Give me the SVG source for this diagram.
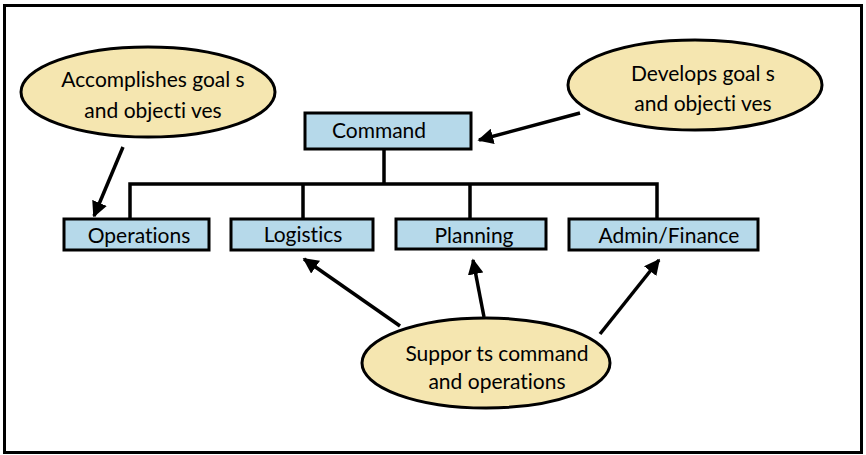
<svg xmlns="http://www.w3.org/2000/svg" width="866" height="455" viewBox="0 0 866 455">
<style>
.frame{fill:#fff;stroke:#000;stroke-width:3}
.box{fill:#b6d9ea;stroke:#000;stroke-width:3}
.ell{fill:#f5e6b0;stroke:#000;stroke-width:3}
.t{font-family:Lato,"Open Sans",sans-serif;font-size:21px;fill:#000;text-anchor:middle;font-variant-ligatures:none}
.ln{stroke:#000;stroke-width:3.5;fill:none}
.ar{stroke:#000;stroke-width:3.5;fill:none;marker-end:url(#ah)}
</style>
<defs>
<marker id="ah" viewBox="0 0 10 10" refX="9" refY="5" markerWidth="4.5" markerHeight="4.5" orient="auto" markerUnits="strokeWidth">
<path d="M0,0 L10,5 L0,10 z" fill="#000"/>
</marker>
</defs>
<rect class="frame" x="4.5" y="5.5" width="857" height="447"/>
<g id="connectors">
<path class="ln" d="M384,150 V184 M130,218 V184 H657 V218 M303,184 V218 M470,184 V218"/>
<path class="ar" d="M123,147 L94,216"/>
<path class="ar" d="M580,113 L479,140"/>
<path class="ar" d="M400,326 L304,259"/>
<path class="ar" d="M484,317 L473,260"/>
<path class="ar" d="M600,334 L659,260"/>
</g>
<g id="n-accomplishes">
<ellipse class="ell" cx="148" cy="92" rx="127" ry="45"/>
<text class="t" x="153" y="87">Accomplishes goal s</text>
<text class="t" x="153" y="118">and objecti ves</text>
</g>
<g id="n-develops">
<ellipse class="ell" cx="695" cy="85" rx="127" ry="45"/>
<text class="t" x="703" y="81">Develops goal s</text>
<text class="t" x="703" y="111">and objecti ves</text>
</g>
<g id="n-command">
<rect class="box" x="305" y="113" width="166" height="36"/>
<text class="t" x="379" y="138">Command</text>
</g>
<g id="n-operations">
<rect class="box" x="64" y="219" width="145" height="31"/>
<text class="t" x="139" y="243">Operations</text>
</g>
<g id="n-logistics">
<rect class="box" x="231" y="219" width="142" height="31"/>
<text class="t" x="303" y="242">Logistics</text>
</g>
<g id="n-planning">
<rect class="box" x="396" y="219" width="150" height="30"/>
<text class="t" x="474" y="243">Planning</text>
</g>
<g id="n-admin">
<rect class="box" x="569" y="219" width="189" height="31"/>
<text class="t" x="669" y="243">Admin/Finance</text>
</g>
<g id="n-supports">
<ellipse class="ell" cx="486" cy="363" rx="124" ry="45"/>
<text class="t" x="497" y="361">Suppor ts command</text>
<text class="t" x="497" y="389">and operations</text>
</g>
</svg>
